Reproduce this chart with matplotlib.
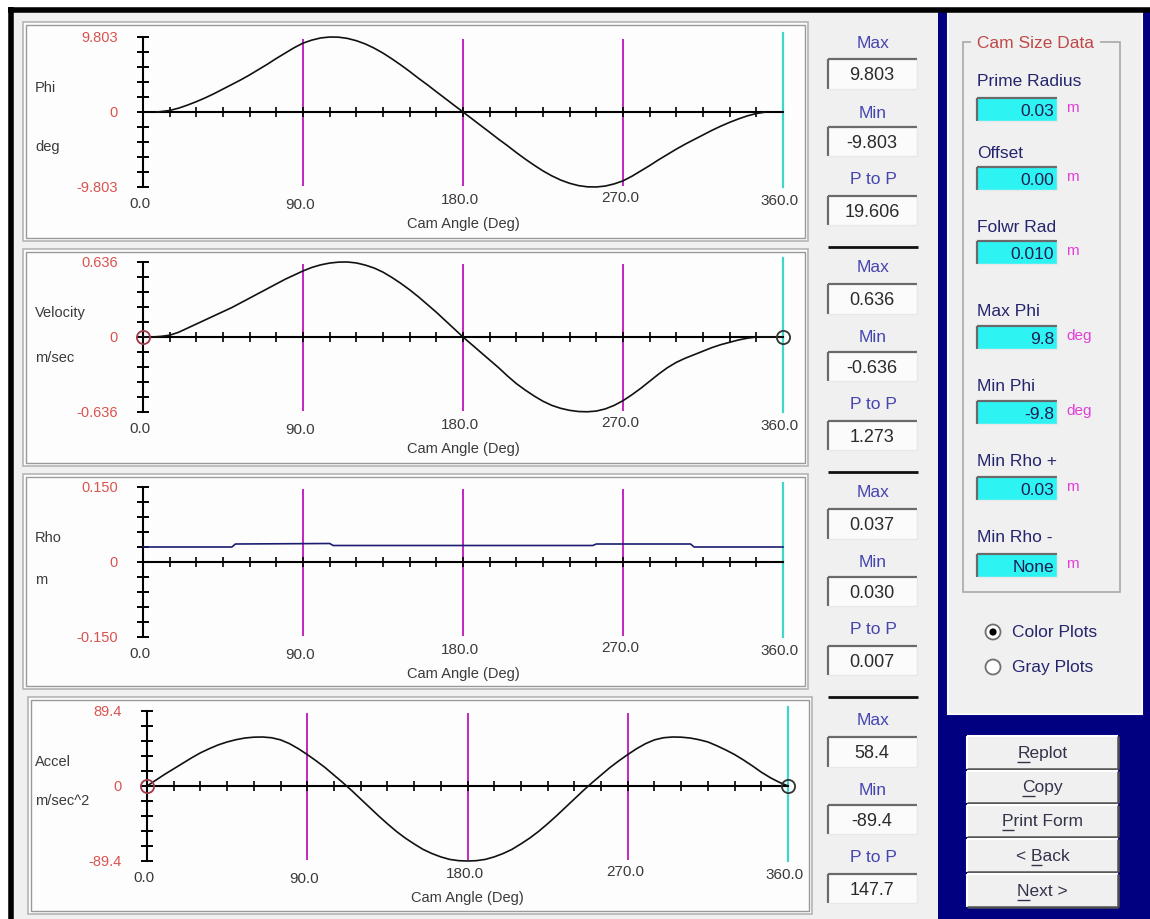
import matplotlib
matplotlib.use("Agg")
import matplotlib.pyplot as plt
from matplotlib.patches import Rectangle, Circle
from matplotlib.font_manager import FontProperties

W, H = 1150, 920
FONT = "Liberation Sans"
plt.rcParams["font.family"] = [FONT, "DejaVu Sans"]

# ---------------- data ----------------
phi_angle = [7.5] + list(range(10, 355, 5))
phi_deg = [0.0,
           0.05, 0.2, 0.5, 0.9, 1.35, 1.85, 2.4, 3.0, 3.6, 4.2, 4.85, 5.55, 6.25, 7.0, 7.7, 8.4, 9.0,
           9.4, 9.68, 9.8, 9.78, 9.62, 9.32, 8.9, 8.35, 7.7, 6.95, 6.15, 5.3, 4.4, 3.55, 2.65, 1.77, 0.88, 0.0,
           -0.88, -1.77, -2.65, -3.55, -4.4, -5.3, -6.15, -6.95, -7.7, -8.35, -8.9, -9.32, -9.62, -9.78,
           -9.8, -9.68, -9.4, -9.0, -8.4, -7.7, -7.0, -6.25, -5.55, -4.85, -4.2, -3.6, -3.0, -2.4, -1.85,
           -1.35, -0.9, -0.5, -0.2, -0.02]

vel_angle = list(range(0, 350, 5)) + [360]
vel_ms = [0.0, 0.0, 0.005, 0.015, 0.04, 0.075, 0.11, 0.145, 0.18, 0.215, 0.25, 0.29, 0.33, 0.37, 0.41,
          0.45, 0.49, 0.525, 0.56, 0.59, 0.612, 0.627, 0.635, 0.636, 0.628, 0.61, 0.585, 0.55, 0.505,
          0.455, 0.40, 0.34, 0.275, 0.21, 0.14, 0.07, 0.0,
          -0.065, -0.13, -0.195, -0.26, -0.33, -0.395, -0.45, -0.50, -0.545, -0.58, -0.605, -0.622,
          -0.632, -0.634, -0.628, -0.61, -0.58, -0.54, -0.49, -0.435, -0.375, -0.315, -0.26, -0.215,
          -0.18, -0.15, -0.12, -0.09, -0.065, -0.045, -0.025, -0.01, 0.0,
          0.0]

rho_angle = [0, 50, 52, 105, 107, 253, 255, 308, 310, 360]
rho_m = [0.030, 0.030, 0.036, 0.037, 0.033, 0.033, 0.036, 0.036, 0.030, 0.030]

acc_angle = list(range(0, 365, 5))
acc_ms2 = [0, 7, 14, 20.5, 27, 33.5, 39.5, 44.5, 49, 52.5, 55.2, 57.2, 58.2, 58.4, 57.5, 55, 50.5,
           44.5, 37.5, 30, 22, 13, 4, -5.5, -15.5, -25.5, -35.5, -45, -54, -62, -69, -75.5, -80.5,
           -84.5, -87.5, -89, -89.4,
           -89, -87.5, -84.5, -80.5, -75.5, -69, -62, -54, -45, -35.5, -25.5, -15.5, -5.5, 4, 13, 22,
           30, 37.5, 44.5, 50.5, 55, 57.5, 58.4, 58.2, 57.2, 55.2, 52.5, 48, 43, 37.5, 31, 24, 16.5,
           10, 4.5, 0]

plot_series = [(phi_angle, phi_deg), (vel_angle, vel_ms), (rho_angle, rho_m), (acc_angle, acc_ms2)]
plot_names = ["Phi", "Velocity", "Rho", "Accel"]
plot_units = ["deg", "m/sec", "m", "m/sec^2"]
y_limits = [9.803, 0.636, 0.150, 89.4]
y_top_labels = ["9.803", "0.636", "0.150", "89.4"]
y_bot_labels = ["-9.803", "-0.636", "-0.150", "-89.4"]
x_tick_values = [0, 90, 180, 270, 360]
x_tick_labels = ["0.0", "90.0", "180.0", "270.0", "360.0"]
x_axis_title = "Cam Angle (Deg)"
end_markers = [False, True, False, True]

stat_max = ["9.803", "0.636", "0.037", "58.4"]
stat_min = ["-9.803", "-0.636", "0.030", "-89.4"]
stat_ptp = ["19.606", "1.273", "0.007", "147.7"]

cam_title = "Cam Size Data"
cam_fields = ["Prime Radius", "Offset", "Folwr Rad", "Max Phi", "Min Phi", "Min Rho +", "Min Rho -"]
cam_values = ["0.03", "0.00", "0.010", "9.8", "-9.8", "0.03", "None"]
cam_units = ["m", "m", "m", "deg", "deg", "m", "m"]
radio_labels = ["Color Plots", "Gray Plots"]
buttons = ["Replot", "Copy", "Print Form", "< Back", "Next >"]
button_mnemonic = [0, 0, 0, 2, 0]

# ---------------- styling / layout ----------------
FORM_BG = "#f0f0f0"
NAVY = "#000080"
RED_LBL = "#d9534f"
DARK_TXT = "#3a3a3a"
BLUE_TXT = "#4545b0"
NAVY_TXT = "#25256e"
MAGENTA = "#c028c0"
CYAN_LINE = "#3fd8c8"
CYAN_BOX = "#2ef3f3"
UNIT_CLR = "#e040d8"

fig = plt.figure(figsize=(W / 100, H / 100), dpi=100)
fig.patch.set_facecolor("white")
bg = fig.add_axes([0, 0, 1, 1], zorder=0)
bg.set_xlim(0, W)
bg.set_ylim(H, 0)
bg.axis("off")


def rect(x0, y0, x1, y1, fc, ec="none", lw=0.0, z=1):
    bg.add_patch(Rectangle((x0, y0), x1 - x0, y1 - y0, fc=fc, ec=ec, lw=lw, zorder=z))


def seg(x0, y0, x1, y1, c, lw, z=2):
    bg.plot([x0, x1], [y0, y1], color=c, lw=lw, zorder=z, solid_capstyle="butt")


def sunken(x0, y0, x1, y1, fc, z=2):
    rect(x0, y0, x1, y1, fc, z=z)
    seg(x0, y0, x1, y0, "#6a6a6a", 1.6, z + 0.1)
    seg(x0, y0, x0, y1, "#6a6a6a", 1.6, z + 0.1)
    seg(x0, y1, x1, y1, "#e8e8e8", 1.0, z + 0.1)
    seg(x1, y0, x1, y1, "#e8e8e8", 1.0, z + 0.1)


def raised(x0, y0, x1, y1, fc, z=2):
    rect(x0, y0, x1, y1, fc, z=z)
    seg(x0, y0, x1, y0, "white", 1.5, z + 0.1)
    seg(x0, y0, x0, y1, "white", 1.5, z + 0.1)
    seg(x0, y1, x1, y1, "#505050", 1.8, z + 0.1)
    seg(x1, y0, x1, y1, "#505050", 1.8, z + 0.1)


# window background
rect(13, 13, 938, H, FORM_BG, z=0.5)
rect(938, 13, W, H, NAVY, z=0.5)
seg(8, 10.5, W, 10.5, "black", 4.0, 3)
seg(10.5, 8, 10.5, H, "black", 4.0, 3)

# plot panel frames
frames = [(23, 23, 808, 242), (23, 250, 808, 467), (23, 475, 808, 690), (28, 698, 812, 915)]
for (x0, y0, x1, y1) in frames:
    rect(x0, y0, x1, y1, "#fdfdfd", ec="#b4b4b4", lw=1.2, z=1)
    bg.add_patch(Rectangle((x0 + 3, y0 + 3), x1 - x0 - 6, y1 - y0 - 6, fc="none",
                           ec="#9a9a9a", lw=1.0, zorder=1.1))

# plots
ax_x0 = [143, 143, 143, 147]
ax_x1 = [783, 783, 783, 788]
ax_top = [38, 263, 488, 712]
ax_h = 150
unit_off = [34, 20, 17, 14]
tick_lbl_off = [16, 17, 12, 10, 13]

for i in range(4):
    x0, x1, top = ax_x0[i], ax_x1[i], ax_top[i]
    ax = fig.add_axes([x0 / W, 1 - (top + ax_h) / H, (x1 - x0) / W, ax_h / H], zorder=2)
    ax.patch.set_alpha(0)
    ax.axis("off")
    ym = y_limits[i]
    ax.set_xlim(0, 360)
    ax.set_ylim(-ym, ym)

    ax.vlines([90, 180, 270], -ym * 0.98, ym * 0.98, colors=MAGENTA, lw=1.4, zorder=2)
    ax.plot([360, 360], [-ym, ym * 1.05], color=CYAN_LINE, lw=1.6, zorder=2, clip_on=False)

    ax.plot([0, 360], [0, 0], color="black", lw=1.5, zorder=3, clip_on=False)
    ax.plot([0, 0], [-ym, ym], color="black", lw=1.5, zorder=3, clip_on=False)
    yt = [k * ym / 5 for k in range(-5, 6)]
    ax.plot([0] * len(yt), yt, ls="none", marker="_", ms=8.5, mew=1.4, color="black",
            zorder=3, clip_on=False)
    xt = list(range(15, 360, 15))
    ax.plot(xt, [0] * len(xt), ls="none", marker="|", ms=7.0, mew=1.2, color="black",
            zorder=3, clip_on=False)

    xs, ys = plot_series[i]
    ccol = "#1c1c70" if i == 2 else "#111111"
    ax.plot(xs, ys, color=ccol, lw=1.2, zorder=4, clip_on=False)

    if end_markers[i]:
        ax.plot([0], [0], marker="o", ms=9.5, mfc="none", mec="#a03848", mew=1.3,
                zorder=5, clip_on=False)
        ax.plot([360], [0], marker="o", ms=9.5, mfc="none", mec="#333333", mew=1.3,
                zorder=5, clip_on=False)

    # y labels
    for val, txt in [(ym, y_top_labels[i]), (0, "0"), (-ym, y_bot_labels[i])]:
        ax.annotate(txt, xy=(0, val), xycoords="data", xytext=(-25, 0),
                    textcoords="offset pixels", ha="right", va="center",
                    fontsize=10.5, color=RED_LBL, annotation_clip=False)
    # x tick labels
    for j, (v, t) in enumerate(zip(x_tick_values, x_tick_labels)):
        ax.annotate(t, xy=(v, -ym), xycoords="data", xytext=(-3, -tick_lbl_off[j]),
                    textcoords="offset pixels", ha="center", va="center",
                    fontsize=11, color=DARK_TXT, annotation_clip=False)
    ax.annotate(x_axis_title, xy=(180, -ym), xycoords="data", xytext=(0, -36),
                textcoords="offset pixels", ha="center", va="center",
                fontsize=10.5, color=DARK_TXT, annotation_clip=False)

    zero_y = top + ax_h / 2
    bg.text(35, top + 50, plot_names[i], ha="left", va="center", fontsize=10.5,
            color=DARK_TXT, zorder=5)
    bg.text(35, zero_y + unit_off[i], plot_units[i], ha="left", va="center", fontsize=10.5,
            color=DARK_TXT, zorder=5)

# statistics column
group_off = [0, 225, 450, 678]
for i, g in enumerate(group_off):
    for lbl, ly, by0, by1, val in [("Max", 43, 60, 90, stat_max[i]),
                                  ("Min", 113, 128, 157, stat_min[i]),
                                  ("P to P", 180, 197, 226, stat_ptp[i])]:
        bg.text(873, ly + g, lbl, ha="center", va="center", fontsize=12.5,
                color=BLUE_TXT, zorder=5)
        sunken(828, by0 + g, 917, by1 + g, "#fbfbfb", z=2)
        bg.text(872, (by0 + by1) / 2 + g + 1, val, ha="center", va="center",
                fontsize=13, color="#2a2a2a", zorder=5)
    if i < 3:
        seg(828, 248 + g, 918, 248 + g, "#111111", 2.0, 3)

# right-hand panel
rect(948, 13, 1142, 715, FORM_BG, ec="#fafafa", lw=1.5, z=1)
bg.add_patch(Rectangle((963, 43), 1120 - 963, 593 - 43, fc="none", ec="#a8a8a8",
                       lw=1.2, zorder=2))
bg.text(972, 43, " " + cam_title + " ", ha="left", va="center", fontsize=12.5,
        color="#c04848", zorder=5,
        bbox=dict(fc=FORM_BG, ec="none", pad=0.5))

label_y = [82, 153, 227, 312, 387, 462, 538]
box_y = [99, 168, 242, 327, 402, 478, 555]
for lbl, val, unit, ly, by in zip(cam_fields, cam_values, cam_units, label_y, box_y):
    bg.text(977, ly, lbl, ha="left", va="center", fontsize=12.5, color=NAVY_TXT, zorder=5)
    sunken(977, by, 1057, by + 23, CYAN_BOX, z=2)
    bg.text(1054, by + 12.5, val, ha="right", va="center", fontsize=12.5,
            color="#1e1e50", zorder=5)
    bg.text(1066, by + 9, unit, ha="left", va="center", fontsize=11, color=UNIT_CLR, zorder=5)

for k, (lbl, ry) in enumerate(zip(radio_labels, [633, 668])):
    bg.add_patch(Circle((993, ry), 7.5, fc="white", ec="#707070", lw=1.3, zorder=4))
    if k == 0:
        bg.add_patch(Circle((993, ry), 3.6, fc="black", ec="none", zorder=5))
    bg.text(1012, ry, lbl, ha="left", va="center", fontsize=12.5, color=NAVY_TXT, zorder=5)

btn_rows = [(737, 770), (772, 804), (806, 838), (840, 873), (875, 908)]
renderer = fig.canvas.get_renderer()
bprop = FontProperties(family=FONT, size=12.5)


def text_w(s):
    if not s:
        return 0.0
    return renderer.get_text_width_height_descent(s, bprop, ismath=False)[0]


for lbl, mi, (y0, y1) in zip(buttons, button_mnemonic, btn_rows):
    raised(967, y0, 1118, y1, "#f0f0f0", z=2)
    cx, cy = 1042.5, (y0 + y1) / 2
    bg.text(cx, cy, lbl, ha="center", va="center", fontproperties=bprop,
            color="#33334a", zorder=5)
    full = text_w(lbl)
    start = cx - full / 2
    u1 = start + text_w(lbl[:mi + 1])
    u0 = u1 - text_w(lbl[mi])
    seg(u0, cy + 9, u1, cy + 9, "#33334a", 1.0, 5)

fig.savefig("out.png", dpi=100, facecolor="white")
